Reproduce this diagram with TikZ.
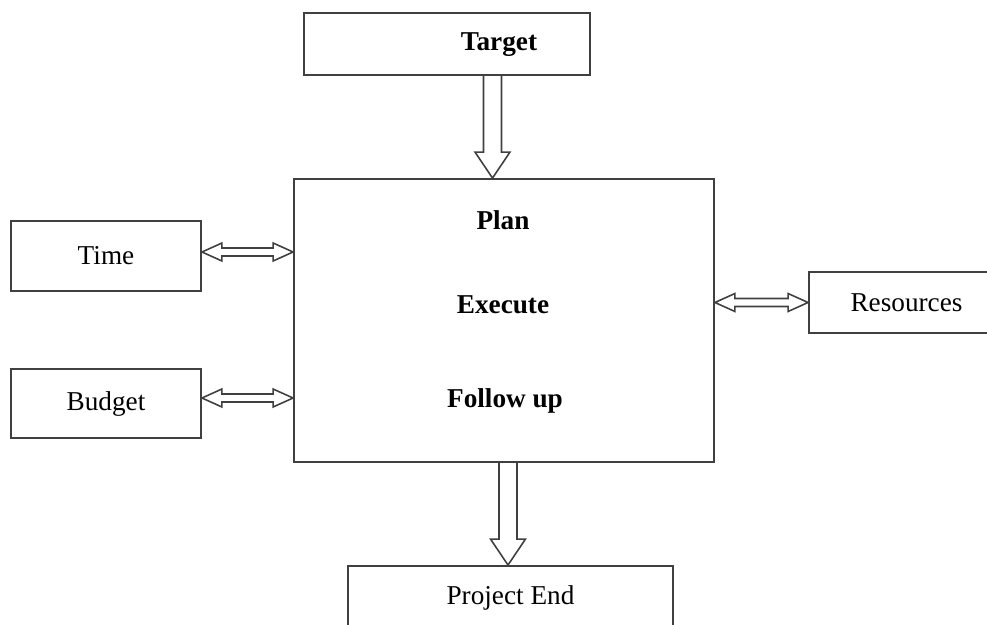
\documentclass[tikz,border=0pt]{standalone}
\usepackage{fontspec}
\setmainfont{Liberation Serif}
\usetikzlibrary{calc}

% fleche creuse vers le bas : #1 depart, #2 pointe
\newcommand{\flechebas}[2]{%
  \draw[blk] let \p1=(#1), \p2=(#2) in
    (\x1-0.18cm,\y1) -- (\x1-0.18cm,\y2+0.52cm) -- (\x1-0.35cm,\y2+0.52cm) -- (\x1,\y2)
    -- (\x1+0.35cm,\y2+0.52cm) -- (\x1+0.18cm,\y2+0.52cm) -- (\x1+0.18cm,\y1);}
% fleche creuse double horizontale : #1 gauche, #2 droite
\newcommand{\flechedouble}[2]{%
  \draw[blk] let \p1=(#1), \p2=(#2) in
    (\x1,\y1) -- (\x1+0.4cm,\y1+0.18cm) -- (\x1+0.4cm,\y1+0.08cm) -- (\x2-0.4cm,\y1+0.08cm)
    -- (\x2-0.4cm,\y1+0.18cm) -- (\x2,\y1) -- (\x2-0.4cm,\y1-0.18cm) -- (\x2-0.4cm,\y1-0.08cm)
    -- (\x1+0.4cm,\y1-0.08cm) -- (\x1+0.4cm,\y1-0.18cm) -- cycle;}

\begin{document}
\begin{tikzpicture}[x=0.02cm,y=-0.02cm,
	box/.style={draw=black!75,line width=1.1pt,inner sep=0pt,font=\fontsize{15.5}{18}\selectfont},
	bold/.style={font=\fontsize{15.5}{18}\selectfont\bfseries},
	blk/.style={draw=black!75,line width=0.9pt,line join=miter}]
	\useasboundingbox (0,0) rectangle (987,625);
	\clip (0,0) rectangle (987,625); % coupe les cadres au bord
	\node[box,minimum width=5.72cm,minimum height=1.24cm] (target) at (447,44) {}; % en haut
	\node[bold] (ttarget) at (499,45) {Target};
	\node[box,minimum width=8.4cm,minimum height=5.66cm] (main) at (504,320.5) {}; % le grand cadre
	\node[bold] (plan) at (503,220) {Plan};
	\node[bold] (exec) at (503,305) {Execute};
	\node[bold] (follow) at (505,401) {Follow up};
	\node[box,minimum width=3.8cm,minimum height=1.4cm] (time) at (106,256) {Time};
	\node[box,minimum width=3.8cm,minimum height=1.38cm] (budget) at (106,403.5) {Budget};
	\node[box,minimum width=3.9cm,minimum height=1.22cm] (res) at (906.5,302.5) {Resources}; % coupe a droite
	\node[box,minimum width=6.5cm,minimum height=1.28cm] (pend) at (510.5,598) {Project End};
	\coordinate (a1) at ([xshift=0.91cm]target.south);
	\coordinate (a2) at ([xshift=0.08cm]main.south);
	\flechebas{a1}{a1 |- main.north}
	\flechebas{a2}{a2 |- pend.north}
	\coordinate (d1) at ([yshift=0.08cm]time.east);
	\coordinate (d2) at ([yshift=0.11cm]budget.east);
	\flechedouble{d1}{d1 -| main.west}
	\flechedouble{d2}{d2 -| main.west}
	\flechedouble{main.east |- res.west}{res.west}
\end{tikzpicture}
\end{document}
